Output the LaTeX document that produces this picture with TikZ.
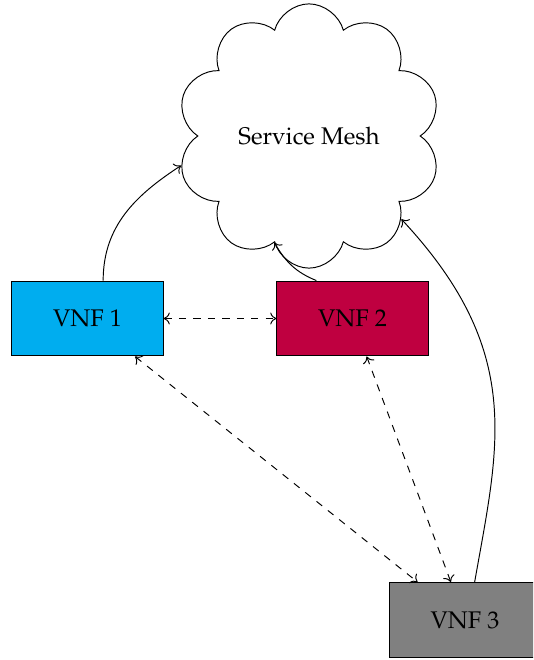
\documentclass[tikz,border=0pt]{standalone}
\IfFileExists{mathpazo.sty}{\usepackage[T1]{fontenc}\usepackage{mathpazo}}{\IfFileExists{palatino.sty}{\usepackage[T1]{fontenc}\usepackage{palatino}}{}}
\usetikzlibrary{shapes.symbols,arrows.meta}
\begin{document}
\begin{tikzpicture}[x=0.415pt,y=-0.415pt,
  vnf/.style={draw, minimum width=62.7pt, minimum height=31.1pt, inner sep=0pt},
  tip/.style={>={To[length=2.6pt,width=5pt]}},
  link/.style={tip, ->},
  peer/.style={tip, <->, dashed}]
\clip (0,0) rectangle (533,660);
\useasboundingbox (0,0) rectangle (533,660);
\node[cloud, draw, cloud puffs=10, aspect=1, minimum width=106pt, minimum height=109pt] (mesh) at (309,136) {Service Mesh};
\node[vnf, fill=cyan] (v1) at (87.5,318.5) {VNF 1};
\node[vnf, fill=purple] (v2) at (352.5,318.5) {VNF 2};
\node[vnf, fill=gray] (v3) at (465,620) {VNF 3};
\draw[link] ([xshift=6.5pt]v1.north) to[out=90, in=213] (mesh.193);
\draw[link] ([xshift=-15pt]v2.north) to[out=158, in=300] (mesh.252);
\draw[link] ([xshift=4pt]v3.north) to[out=80, in=313, out looseness=0.96, in looseness=1.25] (mesh.318);
\draw[peer] (v1) -- (v2);
\draw[peer] (v1) -- (v3);
\draw[peer] (v2) -- (v3);
\end{tikzpicture}
\end{document}
